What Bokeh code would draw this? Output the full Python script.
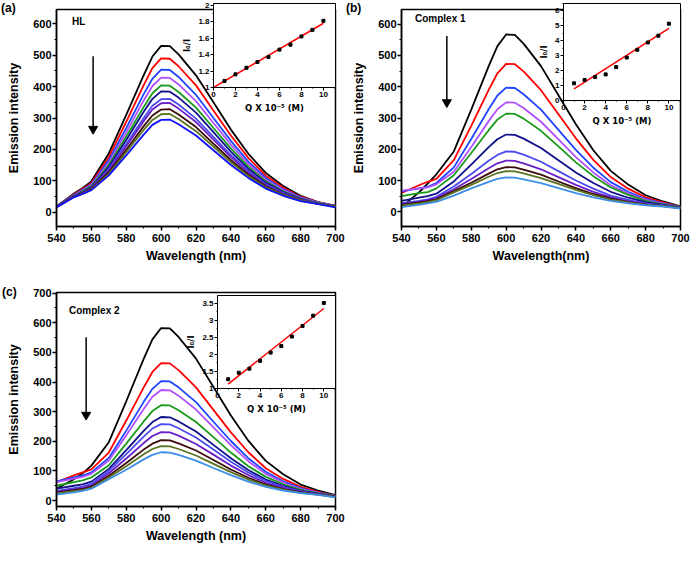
from bokeh.plotting import figure
from bokeh.models import GridBox, SingleIntervalTicker, Div
from bokeh.embed import file_html
from bokeh.resources import INLINE

FONT = "Liberation Sans"
SUPFONT = "DejaVu Sans"

# ---------------- data ----------------
wavelength = [540, 550, 555, 560, 570, 580, 590, 595, 600, 605, 610, 620, 630, 640, 650, 660, 670, 680, 690, 700]

colors_a = ["#000000", "#ff0000", "#1f45ff", "#b050ff", "#1a9a1a", "#10108a",
            "#4b4bf0", "#6a1fc8", "#3d0a0a", "#5b7320", "#1010ff"]
colors_bc = ["#000000", "#ff0000", "#1f45ff", "#b050ff", "#1a9a1a", "#10108a",
             "#4b4bf0", "#6a1fc8", "#3d0a0a", "#5b7320", "#3d8ee6"]

a_black = [18, 59, 77, 98, 187, 310, 437, 496, 530, 529, 503, 436, 350, 263, 186, 125, 83, 52, 32, 20]
a_red = [18, 57, 74, 93, 175, 288, 405, 459, 490, 489, 465, 404, 324, 244, 173, 116, 78, 49, 32, 20]
a_blue = [18, 55, 71, 89, 165, 268, 376, 425, 454, 453, 431, 374, 300, 227, 161, 109, 73, 47, 31, 19]
a_violet = [18, 54, 69, 86, 157, 254, 356, 402, 429, 428, 407, 354, 284, 215, 153, 103, 70, 45, 30, 19]
a_green = [18, 53, 67, 83, 150, 241, 335, 379, 404, 403, 383, 333, 268, 203, 145, 98, 66, 43, 29, 19]
a_navy = [18, 52, 65, 80, 144, 230, 320, 361, 385, 384, 365, 317, 255, 193, 138, 94, 64, 42, 28, 19]
a_bviolet = [18, 50, 63, 77, 137, 217, 300, 339, 360, 361, 343, 298, 240, 182, 131, 89, 61, 40, 28, 18]
a_purple = [18, 50, 62, 76, 133, 210, 290, 327, 347, 348, 330, 287, 231, 176, 126, 86, 59, 39, 27, 18]
a_maroon = [17, 49, 61, 74, 127, 199, 274, 308, 327, 328, 311, 271, 218, 166, 120, 82, 56, 38, 26, 18]
a_olive = [16, 48, 59, 72, 122, 191, 262, 294, 312, 313, 297, 258, 209, 159, 115, 79, 55, 37, 26, 17]
a_lblue = [15, 47, 58, 70, 117, 181, 247, 278, 294, 295, 280, 244, 197, 150, 109, 75, 52, 35, 25, 15]

b_black = [15, 62, 90, 120, 193, 327, 466, 530, 567, 566, 538, 466, 373, 280, 197, 131, 87, 53, 33, 17]
b_red = [60, 85, 96, 105, 165, 275, 390, 443, 473, 472, 449, 389, 312, 235, 166, 111, 74, 46, 30, 16]
b_blue = [65, 75, 80, 92, 142, 233, 328, 372, 397, 396, 376, 327, 262, 198, 141, 95, 64, 41, 27, 16]
b_violet = [68, 75, 78, 88, 128, 207, 290, 328, 350, 349, 332, 288, 232, 175, 126, 85, 58, 38, 25, 15]
b_green = [50, 60, 63, 75, 117, 188, 261, 295, 314, 313, 298, 259, 209, 158, 114, 78, 54, 35, 24, 15]
b_navy = [35, 45, 50, 58, 97, 151, 207, 232, 247, 246, 234, 204, 165, 126, 92, 64, 45, 31, 22, 14]
b_bviolet = [28, 35, 40, 48, 81, 121, 163, 182, 193, 192, 183, 160, 130, 100, 74, 52, 38, 27, 20, 13]
b_purple = [25, 32, 37, 44, 72, 105, 139, 155, 164, 163, 155, 136, 111, 86, 64, 46, 34, 25, 19, 12]
b_maroon = [22, 30, 34, 40, 66, 93, 122, 136, 143, 142, 135, 119, 97, 76, 57, 42, 31, 23, 18, 12]
b_olive = [20, 27, 31, 37, 62, 86, 112, 124, 130, 129, 123, 108, 89, 70, 53, 39, 30, 22, 18, 12]
b_lblue = [15, 22, 27, 32, 52, 75, 96, 105, 110, 109, 104, 92, 76, 60, 46, 35, 27, 21, 17, 10]

c_black = [40, 72, 92, 118, 197, 335, 478, 544, 582, 581, 552, 479, 383, 287, 202, 134, 89, 54, 34, 18]
c_red = [62, 85, 95, 105, 162, 270, 382, 434, 464, 463, 440, 382, 306, 230, 163, 109, 73, 46, 29, 16]
c_blue = [65, 78, 84, 95, 144, 236, 333, 377, 403, 402, 382, 332, 266, 201, 143, 97, 65, 42, 27, 16]
c_violet = [62, 74, 80, 90, 135, 220, 309, 350, 373, 372, 354, 307, 247, 187, 133, 90, 61, 39, 26, 15]
c_green = [50, 62, 68, 78, 119, 192, 267, 302, 322, 321, 305, 265, 214, 162, 116, 80, 55, 36, 24, 15]
c_navy = [40, 50, 55, 64, 107, 170, 235, 265, 282, 281, 267, 233, 188, 143, 103, 71, 50, 33, 23, 14]
c_bviolet = [33, 42, 47, 56, 100, 157, 216, 243, 258, 257, 244, 213, 172, 131, 95, 66, 46, 31, 22, 14]
c_purple = [30, 38, 43, 51, 92, 142, 194, 218, 231, 230, 219, 191, 155, 118, 86, 60, 43, 29, 21, 13]
c_maroon = [27, 35, 39, 47, 84, 127, 172, 192, 204, 203, 193, 169, 137, 105, 77, 55, 39, 28, 20, 13]
c_olive = [24, 32, 36, 43, 78, 116, 156, 174, 184, 183, 174, 152, 124, 96, 71, 51, 37, 26, 20, 12]
c_lblue = [20, 28, 33, 40, 72, 104, 139, 154, 163, 162, 154, 135, 110, 86, 64, 46, 34, 25, 19, 11]

quencher = [1, 2, 3, 4, 5, 6, 7, 8, 9, 10]
a_ratio = [1.08, 1.16, 1.24, 1.31, 1.37, 1.46, 1.52, 1.62, 1.70, 1.81]
a_fit_x = [0, 10]
a_fit_y = [1.0, 1.78]
b_ratio = [1.15, 1.37, 1.57, 1.75, 2.24, 2.88, 3.40, 3.89, 4.34, 5.15]
b_fit_x = [1, 10]
b_fit_y = [0.78, 4.83]
c_ratio = [1.27, 1.46, 1.58, 1.81, 2.05, 2.24, 2.52, 2.83, 3.13, 3.50]
c_fit_x = [1, 10]
c_fit_y = [1.13, 3.34]

# arrows: (x, y_start, y_end)
arrow_a = (561, 497, 265)
arrow_b = (566, 562, 350)
arrow_c = (557, 551, 289)

curves_a = [a_black, a_red, a_blue, a_violet, a_green, a_navy, a_bviolet, a_purple, a_maroon, a_olive, a_lblue]
curves_b = [b_black, b_red, b_blue, b_violet, b_green, b_navy, b_bviolet, b_purple, b_maroon, b_olive, b_lblue]
curves_c = [c_black, c_red, c_blue, c_violet, c_green, c_navy, c_bviolet, c_purple, c_maroon, c_olive, c_lblue]


def main_panel(curves, colors, yr, xlabel, arrow, bt, frame_h):
    p = figure(width=345, height=280, x_range=(540, 700), y_range=yr,
               output_backend="svg", toolbar_location=None,
               min_border_left=52, min_border_right=10,
               min_border_top=bt, min_border_bottom=280 - bt - frame_h)
    p.xgrid.visible = False
    p.ygrid.visible = False
    p.outline_line_color = "black"
    p.outline_line_width = 1.5
    for vals, col in zip(curves, colors):
        p.line(wavelength, vals, color=col, line_width=1.8)
    p.xaxis.ticker = SingleIntervalTicker(interval=20, num_minor_ticks=2)
    p.yaxis.ticker = SingleIntervalTicker(interval=100, num_minor_ticks=2)
    for ax in (p.xaxis[0], p.yaxis[0]):
        ax.axis_line_width = 1.5
        ax.major_tick_line_width = 1.5
        ax.minor_tick_line_width = 1.2
        ax.major_tick_out = 4
        ax.major_tick_in = 0
        ax.minor_tick_out = 2
        ax.minor_tick_in = 0
        ax.major_label_text_font = FONT
        ax.major_label_text_font_style = "bold"
        ax.major_label_text_font_size = "11px"
        ax.major_label_text_color = "black"
        ax.axis_label_text_font = FONT
        ax.axis_label_text_font_style = "bold"
        ax.axis_label_text_font_size = "12.5px"
        ax.axis_label_text_color = "black"
    p.xaxis.major_label_standoff = 3
    p.yaxis.major_label_standoff = 1
    p.xaxis.axis_label_standoff = 4
    p.yaxis.axis_label_standoff = 9
    p.xaxis.axis_label = xlabel
    p.yaxis.axis_label = "Emission intensity"
    p.line([arrow[0], arrow[0]], [arrow[1], arrow[2]], line_color="black", line_width=1.5)
    p.scatter([arrow[0]], [arrow[2]], marker="inverted_triangle", size=9, color="black")
    return p


def inset(ratio, fit_x, fit_y, yr, yint, frame_w, frame_h, margin):
    q = figure(width=56 + frame_w + 10, height=9 + frame_h + 54, x_range=(0, 11.1), y_range=yr,
               output_backend="svg", toolbar_location=None,
               min_border_left=56, min_border_right=10, min_border_top=9,
               min_border_bottom=54, align="start", margin=margin)
    q.border_fill_alpha = 0
    q.background_fill_color = "white"
    q.xgrid.visible = False
    q.ygrid.visible = False
    q.outline_line_color = "black"
    q.outline_line_width = 1
    q.line(fit_x, fit_y, color="#ff0000", line_width=1.5)
    q.scatter(quencher, ratio, marker="square", size=3, color="black")
    q.xaxis.ticker = SingleIntervalTicker(interval=2, num_minor_ticks=2)
    q.yaxis.ticker = SingleIntervalTicker(interval=yint, num_minor_ticks=2)
    for ax in (q.xaxis[0], q.yaxis[0]):
        ax.axis_line_width = 1
        ax.major_tick_out = 3
        ax.major_tick_in = 0
        ax.minor_tick_out = 1
        ax.minor_tick_in = 0
        ax.major_label_text_font = FONT
        ax.major_label_text_font_style = "bold"
        ax.major_label_text_font_size = "8px"
        ax.major_label_text_color = "black"
        ax.major_label_standoff = 1
        ax.axis_label_text_font = SUPFONT
        ax.axis_label_text_font_style = "bold"
        ax.axis_label_text_font_size = "8.5px"
        ax.axis_label_text_color = "black"
        ax.axis_label_standoff = 3
    q.xaxis.axis_label = "Q X 10\u207b\u2075 (M)"
    q.yaxis.axis_label = "I\u2080/I"
    return q


def text_div(text, margin, size, width):
    return Div(text=text, width=width, height=16, align="start", margin=margin,
               styles={"font-family": FONT, "font-weight": "bold",
                       "font-size": size, "color": "black", "white-space": "nowrap"})


pa = main_panel(curves_a, colors_a, (-46, 646), "Wavelength (nm)", arrow_a, 3, 227)
pb = main_panel(curves_b, colors_bc, (-47, 647), "Wavelength(nm)", arrow_b, 3, 227)
pc = main_panel(curves_c, colors_bc, (-20, 702), "Wavelength (nm)", arrow_c, 12, 218)

ia = inset(a_ratio, a_fit_x, a_fit_y, (1.0, 2.02), 0.2, 122, 84, (-6, 0, 0, 157))
ib = inset(b_ratio, b_fit_x, b_fit_y, (0, 6.5), 1, 117, 97, (-6, 0, 0, 162))
ic = inset(c_ratio, c_fit_x, c_fit_y, (1.0, 3.72), 0.5, 118, 96, (3, 0, 0, 161))

grid = GridBox(children=[(pa, 0, 0), (pb, 0, 1), (pc, 1, 0),
                         (ia, 0, 0), (ib, 0, 1), (ic, 1, 0),
                         (text_div("(a)", (0, 0, 0, 1), "12px", 30), 0, 0),
                         (text_div("(b)", (0, 0, 0, 1), "12px", 30), 0, 1),
                         (text_div("(c)", (4, 0, 0, 2), "12px", 30), 1, 0),
                         (text_div("HL", (15, 0, 0, 72), "10px", 30), 0, 0),
                         (text_div("Complex 1", (12, 0, 0, 70), "10px", 70), 0, 1),
                         (text_div("Complex 2", (24, 0, 0, 69), "10px", 70), 1, 0)])

open("out.html", "w").write(file_html(grid, INLINE))
